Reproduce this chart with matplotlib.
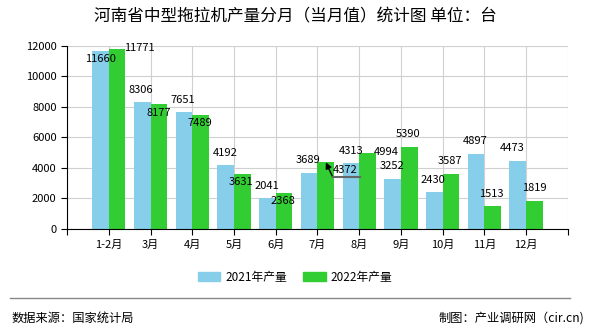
import numpy as np
import matplotlib
matplotlib.use("Agg")
import matplotlib.pyplot as plt
from matplotlib.patches import Patch
from matplotlib.lines import Line2D
from matplotlib.transforms import offset_copy

plt.rcParams['font.family'] = ['Noto Sans CJK SC', 'DejaVu Sans']

months = ["1-2月", "3月", "4月", "5月", "6月", "7月", "8月", "9月", "10月", "11月", "12月"]
prod2021 = [11660, 8306, 7651, 4192, 2041, 3689, 4313, 3252, 2430, 4897, 4473]
prod2022 = [11771, 8177, 7489, 3631, 2368, 4372, 4994, 5390, 3587, 1513, 1819]
series_names = ["2021年产量", "2022年产量"]
title = "河南省中型拖拉机产量分月（当月值）统计图 单位：台"

c2021 = "#87CEEB"
c2022 = "#32CD32"

# label offsets in pixels from bar top (dx, dy)
off2021 = [(0, -8), (-1, 12), (-1, 12), (0, 12), (0, 12), (-1, 13), (0, 12), (-1, 13), (-1, 12), (-1, 13), (-6, 13)]
off2022 = [(22, 1), (0, -9), (-1, -8), (-1, -8), (-1, -8), (19, -8), (19, 1), (-1, 13), (-1, 13), (-1, 12), (0, 13)]

fig = plt.figure(figsize=(5.9, 3.3), dpi=100)
ax = fig.add_axes([0.1136, 0.306, 0.849, 0.555])

x = np.arange(len(months))
w = 0.4
ax.bar(x - w / 2, prod2021, w, color=c2021, zorder=2)
ax.bar(x + w / 2, prod2022, w, color=c2022, zorder=2)

for i in range(len(months)):
    dx, dy = off2021[i]
    ax.annotate(str(prod2021[i]), (x[i] - w / 2, prod2021[i]), xytext=(dx, dy),
                textcoords="offset pixels", ha="center", va="center", fontsize=8, zorder=4)
    dx, dy = off2022[i]
    ax.annotate(str(prod2022[i]), (x[i] + w / 2, prod2022[i]), xytext=(dx, dy),
                textcoords="offset pixels", ha="center", va="center", fontsize=8, zorder=4)

# leader line for the 7月 label (arrow + underline)
i = 5
pt = (x[i] + w / 2, prod2022[i])
ax.annotate("", xy=pt, xytext=(7, -15), textcoords="offset pixels",
            arrowprops=dict(arrowstyle="-|>", color="black", lw=1.0, mutation_scale=9,
                            shrinkA=0, shrinkB=0), zorder=5, annotation_clip=False)
under = offset_copy(ax.transData, fig=fig, x=7, y=-15, units="dots")
ax.add_line(Line2D([pt[0], pt[0] + 0.65], [pt[1], pt[1]], transform=under,
                   color="#666666", lw=1.5, zorder=5))

ax.set_xlim(-1, 11)
ax.set_ylim(0, 12000)
ax.set_yticks(np.arange(0, 12001, 2000))
ax.set_xticks(np.arange(-1, 12))
ax.set_xticklabels([""] + months + [""])
ax.tick_params(axis="both", labelsize=8, length=4, width=0.8, color="black")
ax.grid(True, color="#d0d0d0", lw=0.8, zorder=0)
for s in ["top", "right"]:
    ax.spines[s].set_visible(False)
ax.spines["left"].set_zorder(3)
ax.spines["bottom"].set_zorder(3)

handles = [Patch(color=c2021), Patch(color=c2022)]
fig.legend(handles, series_names, loc="center", bbox_to_anchor=(0.5, 0.16), ncol=2,
           frameon=False, fontsize=8.5, handlelength=1.9, handleheight=0.8,
           handletextpad=0.4, columnspacing=1.4)

fig.text(0.5, 0.948, title, ha="center", va="center", fontsize=12)
fig.add_artist(Line2D([0.017, 0.966], [0.097, 0.097], color="#888888", lw=1))
fig.text(0.02, 0.036, "数据来源：国家统计局", ha="left", va="center", fontsize=8.8)
fig.text(0.99, 0.036, "制图：产业调研网（cir.cn)", ha="right", va="center", fontsize=8.8)

fig.savefig("out.png", dpi=100)
